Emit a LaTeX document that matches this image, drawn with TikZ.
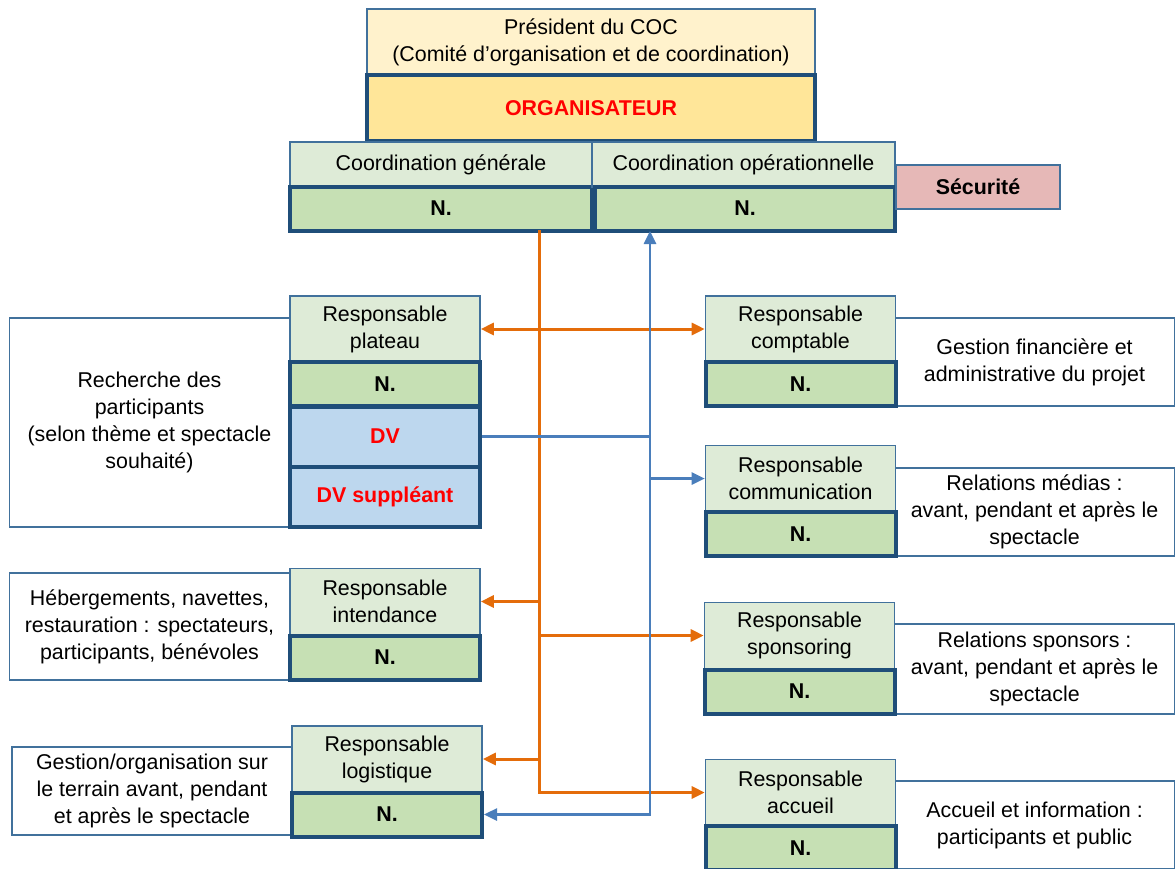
\documentclass[tikz,border=0pt]{standalone}
\usepackage{fontspec}
\setmainfont{Liberation Sans}
\usetikzlibrary{arrows.meta}

\definecolor{respgreen}{HTML}{DEEBD7}
\definecolor{namegreen}{HTML}{C6E0B4}
\definecolor{prescream}{HTML}{FFF2CC}
\definecolor{orgyellow}{HTML}{FFE699}
\definecolor{dvblue}{HTML}{BDD7EE}
\definecolor{secpink}{HTML}{E6B8B7}
\definecolor{thinedge}{HTML}{41719C}
\definecolor{thickedge}{HTML}{1F4E79}
\definecolor{linkorange}{HTML}{E46C0A}
\definecolor{linkblue}{HTML}{4A7EBB}

\begin{document}
\begin{tikzpicture}[x=0.5pt, y=-0.5pt, >={Triangle[length=6.5pt,width=6pt]},
    every node/.style={font=\fontsize{10.7}{13.5}\selectfont, align=center, inner sep=0pt},
    respbox/.style={draw=thinedge, line width=0.8pt, fill=respgreen, minimum width=95pt, minimum height=33pt},
    namebox/.style={draw=thickedge, line width=2pt, fill=namegreen, minimum width=95pt, minimum height=22pt, font=\fontsize{10.7}{13.5}\selectfont\bfseries},
    dvbox/.style={draw=thickedge, line width=2pt, fill=dvblue, minimum width=95pt, minimum height=30pt, text=red, font=\fontsize{10.7}{13.5}\selectfont\bfseries},
    descbox/.style={draw=thinedge, line width=0.8pt, fill=white, minimum width=140pt},
    orangelink/.style={draw=linkorange, line width=1.5pt},
    bluelink/.style={draw=linkblue, line width=1.3pt}]

    \useasboundingbox (0,0) rectangle (1176,868);

    % top of the chart
    \node[draw=thinedge, line width=0.8pt, fill=prescream, minimum width=224pt, minimum height=33pt] (pres) at (591,42) {Président du COC\\(Comité d’organisation et de coordination)};
    \node[draw=thickedge, line width=2pt, fill=orgyellow, minimum width=224pt, minimum height=33pt, text=red, font=\fontsize{10.7}{13.5}\selectfont\bfseries] (org) at (591,108) {ORGANISATEUR};
    \node[respbox, minimum width=151pt, minimum height=22.5pt] (cgen) at (441,164.5) {Coordination générale};
    \node[namebox, minimum width=151pt] (cgenN) at (441,208.5) {N.};
    \node[respbox, minimum width=151.5pt, minimum height=22.5pt] (cope) at (743.5,164.5) {Coordination opérationnelle};
    \node[namebox, minimum width=150pt] (copeN) at (745,208.5) {N.};
    \node[draw=thinedge, line width=0.8pt, fill=secpink, minimum width=82pt, minimum height=22pt, font=\fontsize{10.7}{13.5}\selectfont\bfseries] (secu) at (978,187) {Sécurité};

    % left column
    \node[descbox, minimum height=104.5pt] (dplat) at (149.5,422.5) {Recherche des\\participants\\(selon thème et spectacle\\souhaité)};
    \node[respbox] (rplat) at (385,329) {Responsable\\plateau};
    \node[namebox] (platN) at (385,384) {N.};
    \node[dvbox] (dv) at (385,436.5) {DV};
    \node[dvbox] (dvs) at (385,497) {DV suppléant};

    \node[descbox, minimum height=53.5pt] (dint) at (149.5,626.5) {Hébergements, navettes,\\restauration : spectateurs,\\participants, bénévoles};
    \node[respbox] (rint) at (385,601.5) {Responsable\\intendance};
    \node[namebox] (intN) at (385,657.5) {N.};

    \node[descbox, minimum height=44pt] (dlog) at (152,791) {Gestion/organisation sur\\le terrain avant, pendant\\et après le spectacle};
    \node[respbox] (rlog) at (387,759) {Responsable\\logistique};
    \node[namebox] (logN) at (387,814.5) {N.};

    % right column
    \node[descbox, minimum height=44pt] (dcomp) at (1034.5,362) {Gestion financière et\\administrative du projet};
    \node[respbox] (rcomp) at (800.5,329) {Responsable\\comptable};
    \node[namebox] (compN) at (800.5,384) {N.};

    \node[descbox, minimum height=44pt] (dcomm) at (1034.5,512) {Relations médias :\\avant, pendant et après le\\spectacle};
    \node[respbox] (rcomm) at (800.5,478.5) {Responsable\\communication};
    \node[namebox] (commN) at (800.5,534) {N.};

    \node[descbox, minimum height=45pt] (dspon) at (1034.5,669) {Relations sponsors :\\avant, pendant et après le\\spectacle};
    \node[respbox] (rspon) at (799.5,635.5) {Responsable\\sponsoring};
    \node[namebox] (sponN) at (799.5,691.5) {N.};

    \node[descbox, minimum height=44pt] (dacc) at (1034.5,825) {Accueil et information :\\participants et public};
    \node[respbox] (racc) at (800.5,792.5) {Responsable\\accueil};
    \node[namebox] (accN) at (800.5,848) {N.};

    % links
    \coordinate (otop) at (539,230);
    \coordinate (btop) at (650,231);

    \draw[orangelink, ->] (otop) |- (racc.west);
    \draw[orangelink, <->] (rplat.east) -- (rcomp.west);
    \draw[orangelink, ->] (otop |- rint.east) -- (rint.east);
    \draw[orangelink, ->] (otop |- rspon.west) -- (rspon.west);
    \draw[orangelink, ->] (otop |- rlog.east) -- (rlog.east);

    \draw[bluelink, <->] (logN.east) -| (btop);
    \draw[bluelink] (dv.east) -- (dv.east -| btop);
    \draw[bluelink, ->] (btop |- rcomm.west) -- (rcomm.west);
\end{tikzpicture}
\end{document}
